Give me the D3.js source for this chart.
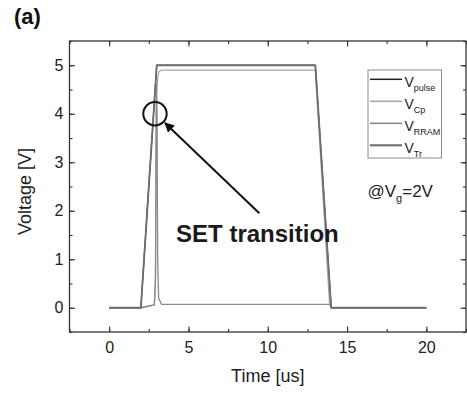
<!DOCTYPE html>
<html><head><meta charset="utf-8">
<script src="https://cdn.jsdelivr.net/npm/d3@7"></script>
<style>
html,body{margin:0;padding:0;background:#fff;}
svg{display:block;font-family:"Liberation Sans",Arial,Helvetica,sans-serif;}
</style></head>
<body>
<script>
// ---- data ----
const seriesNames = ["pulse", "Cp", "RRAM", "Tr"];
const vPulseT = [0, 2, 3, 13, 14, 20];
const vPulseV = [0, 0, 5, 5, 0, 0];
const vCpT = [0, 2, 2.85, 2.92, 2.96, 3.0, 3.06, 3.14, 3.3, 13, 13.9, 14.0, 20];
const vCpV = [0, 0, 0.06, 0.5, 3.0, 4.4, 4.75, 4.87, 4.9, 4.9, 0.07, 0, 0];
const vRramT = [0, 2, 2.85, 2.92, 2.97, 3.02, 3.06, 3.12, 3.3, 13.9, 14.05, 20];
const vRramV = [0, 0, 0.06, 0.6, 4.6, 4.0, 1.0, 0.2, 0.07, 0.07, 0, 0];
const vTrT = [0, 2, 3, 13, 14, 20];
const vTrV = [0, 0, 5, 5, 0, 0];
const xTicks = [0, 5, 10, 15, 20];
const yTicks = [0, 1, 2, 3, 4, 5];

const W = 467, H = 394;
const m = {l: 69.5, r: 466, t: 41, b: 332};
const x = d3.scaleLinear().domain([-2.5, 22.5]).range([m.l, m.r]);
const y = d3.scaleLinear().domain([-0.5, 5.5]).range([m.b, m.t]);

const svg = d3.select("body").append("svg").attr("width", W).attr("height", H);

// lines
const line = d3.line().x(d => x(d[0])).y(d => y(d[1]));
const zip = (a, b) => a.map((v, i) => [v, b[i]]);
const series = [
  {name: "pulse", data: zip(vPulseT, vPulseV), color: "#222", w: 1.2},
  {name: "Cp", data: zip(vCpT, vCpV), color: "#a8a8a8", w: 1.3},
  {name: "RRAM", data: zip(vRramT, vRramV), color: "#8a8a8a", w: 1.3},
  {name: "Tr", data: zip(vTrT, vTrV), color: "#6e6e6e", w: 1.8}
];
svg.append("g").selectAll("path").data(series).join("path")
  .attr("d", d => line(d.data)).attr("fill", "none")
  .attr("stroke", d => d.color).attr("stroke-width", d => d.w)
  .attr("stroke-linejoin", "round");

// axes (ticks inward)
const axisColor = "#333";
const xMinor = d3.range(-2.5, 22.6, 2.5);
const yMinor = d3.range(-0.5, 5.6, 0.5);
function styleAxis(g) {
  g.select(".domain").remove();
  g.selectAll("line").attr("stroke", axisColor).attr("stroke-width", 1.1);
}
svg.append("g").attr("transform", `translate(0,${m.b})`)
  .call(d3.axisBottom(x).tickValues(xMinor).tickSize(-3).tickFormat(""))
  .call(styleAxis);
svg.append("g").attr("transform", `translate(0,${m.b})`)
  .call(d3.axisBottom(x).tickValues(xTicks).tickSize(-5.5).tickPadding(12).tickFormat(d3.format("d")))
  .call(styleAxis)
  .call(g => g.selectAll("text").attr("font-size", 16).attr("fill", "#222").attr("dy", "0.71em").attr("y", 9.5));
svg.append("g").attr("transform", `translate(0,${m.t})`)
  .call(d3.axisTop(x).tickValues(xMinor).tickSize(-3).tickFormat("")).call(styleAxis);
svg.append("g").attr("transform", `translate(0,${m.t})`)
  .call(d3.axisTop(x).tickValues(xTicks).tickSize(-5.5).tickFormat("")).call(styleAxis);

svg.append("g").attr("transform", `translate(${m.l},0)`)
  .call(d3.axisLeft(y).tickValues(yMinor).tickSize(-3).tickFormat("")).call(styleAxis);
svg.append("g").attr("transform", `translate(${m.l},0)`)
  .call(d3.axisLeft(y).tickValues(yTicks).tickSize(-5.5).tickPadding(12).tickFormat(d3.format("d")))
  .call(styleAxis)
  .call(g => g.selectAll("text").attr("font-size", 16).attr("fill", "#222").attr("x", -6));
svg.append("g").attr("transform", `translate(${m.r},0)`)
  .call(d3.axisRight(y).tickValues(yMinor).tickSize(-3).tickFormat("")).call(styleAxis);
svg.append("g").attr("transform", `translate(${m.r},0)`)
  .call(d3.axisRight(y).tickValues(yTicks).tickSize(-5.5).tickFormat("")).call(styleAxis);

// frame
svg.append("rect").attr("x", m.l).attr("y", m.t).attr("width", m.r - m.l).attr("height", m.b - m.t)
  .attr("fill", "none").attr("stroke", axisColor).attr("stroke-width", 1.3);

// axis titles
svg.append("text").attr("x", (m.l + m.r) / 2).attr("y", 381.5).attr("text-anchor", "middle")
  .attr("font-size", 18).attr("fill", "#222").text("Time [us]");
svg.append("text").attr("transform", `translate(31,${(m.t + m.b) / 2 + 5}) rotate(-90)`)
  .attr("text-anchor", "middle").attr("font-size", 18).attr("fill", "#222").text("Voltage [V]");

// panel label
svg.append("text").attr("x", 14).attr("y", 24).attr("font-size", 22).attr("font-weight", "bold")
  .attr("fill", "#111").text("(a)");

// legend
const lg = svg.append("g");
lg.append("rect").attr("x", 368).attr("y", 70).attr("width", 73.5).attr("height", 88)
  .attr("fill", "#fff").attr("stroke", "#8c8c8c").attr("stroke-width", 1);
series.forEach((s, i) => {
  const base = 87.3 + i * 22;
  lg.append("line").attr("x1", 370).attr("x2", 402).attr("y1", base - 8).attr("y2", base - 8)
    .attr("stroke", s.color).attr("stroke-width", s.w + 0.3);
  const t = lg.append("text").attr("x", 404.5).attr("y", base).attr("font-size", 14).attr("fill", "#222");
  t.append("tspan").text("V");
  t.append("tspan").attr("font-size", 9).attr("dy", 4).text(s.name);
});

// annotation: @Vg=2V
const an = svg.append("text").attr("x", 367.5).attr("y", 197).attr("font-size", 17).attr("fill", "#222");
an.append("tspan").text("@V");
an.append("tspan").attr("font-size", 11).attr("dy", 5).text("g");
an.append("tspan").attr("dy", -5).text("=2V");

// circle and arrow
const circT = 2.89, circV = 4.0;
svg.append("circle").attr("cx", x(circT)).attr("cy", y(circV)).attr("r", 11.7)
  .attr("fill", "none").attr("stroke", "#111").attr("stroke-width", 2);
const defs = svg.append("defs");
defs.append("marker").attr("id", "ah").attr("viewBox", "0 0 10 10").attr("refX", 9).attr("refY", 5)
  .attr("markerWidth", 5).attr("markerHeight", 5).attr("orient", "auto")
  .append("path").attr("d", "M0,0 L10,5 L0,10 z").attr("fill", "#111");
svg.append("line").attr("x1", x(9.47)).attr("y1", y(1.95)).attr("x2", x(3.52)).attr("y2", y(3.81))
  .attr("stroke", "#111").attr("stroke-width", 2).attr("marker-end", "url(#ah)");

svg.append("text").attr("x", x(4.22)).attr("y", y(1.36)).attr("font-size", 24).attr("font-weight", "bold")
  .attr("fill", "#1a1a1a").text("SET transition");
</script>
</body></html>
